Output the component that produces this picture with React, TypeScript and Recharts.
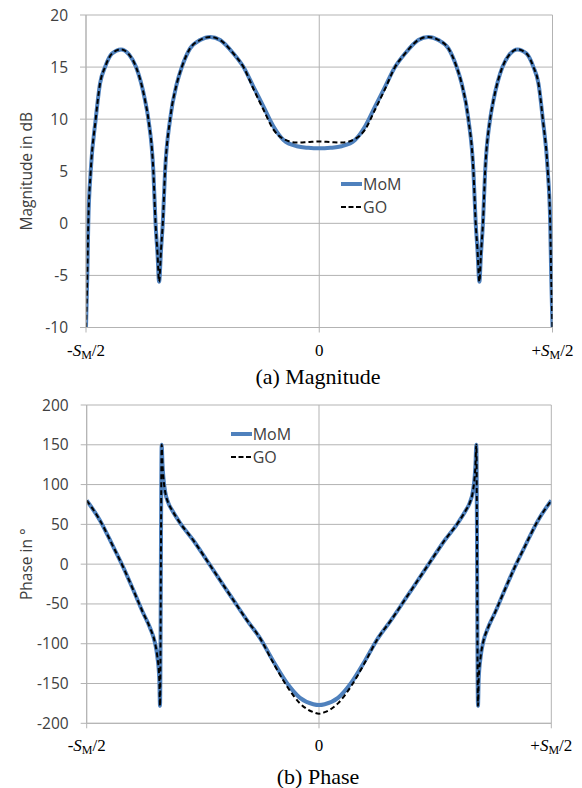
import React from "react";
import { LineChart, Line, XAxis, YAxis, CartesianGrid, Legend } from "recharts";

// x is the position along the aperture in units of S_M (-0.5 .. +0.5)
const xTicks = [-0.5, 0, 0.5];

const magTicks = [-10, -5, 0, 5, 10, 15, 20];
const magX = [
  -0.5, -0.4972, -0.4951, -0.4899, -0.4792, -0.47, -0.4592, -0.4442, -0.4249, -0.4077,
  -0.3927, -0.3734, -0.3663, -0.3556, -0.3509, -0.3466, -0.3433, -0.3391, -0.3354, -0.3305,
  -0.3197, -0.3054, -0.2946, -0.2768, -0.2554, -0.2339, -0.2124, -0.1839, -0.1624, -0.141,
  -0.1195, -0.0981, -0.0766, -0.0479, -0.0236, 0,
  0.0236, 0.0479, 0.0766, 0.0981, 0.1195, 0.141, 0.1624, 0.1839, 0.2124, 0.2339,
  0.2554, 0.2768, 0.2946, 0.3054, 0.3197, 0.3305, 0.3354, 0.3391, 0.3433, 0.3466,
  0.3509, 0.3556, 0.3663, 0.3734, 0.3927, 0.4077, 0.4249, 0.4442, 0.4592, 0.47,
  0.4792, 0.4899, 0.4951, 0.4972, 0.5,
];
const magMoM = [
  -10, -5, 0, 5, 10, 13.4, 15, 16.3, 16.7, 16.2,
  15, 11.8, 10, 5, 0, -3, -5.6, -2.5, 0, 5,
  10, 13.4, 15, 16.8, 17.6, 17.9, 17.6, 16.3, 15, 13.1,
  11.2, 9.3, 8, 7.4, 7.25, 7.2,
  7.25, 7.4, 8, 9.3, 11.2, 13.1, 15, 16.3, 17.6, 17.9,
  17.6, 16.8, 15, 13.4, 10, 5, 0, -2.5, -5.6, -3,
  0, 5, 10, 11.8, 15, 16.2, 16.7, 16.3, 15, 13.4,
  10, 5, 0, -5, -10,
];
const magGO = [
  -10, -5, 0, 5, 10, 13.4, 15, 16.3, 16.7, 16.2,
  15, 11.8, 10, 5, 0, -3, -5.6, -2.5, 0, 5,
  10, 13.4, 15, 16.8, 17.6, 17.9, 17.6, 16.3, 15, 12.9,
  10.9, 9.0, 8.1, 7.75, 7.8, 7.85,
  7.8, 7.75, 8.1, 9.0, 10.9, 12.9, 15, 16.3, 17.6, 17.9,
  17.6, 16.8, 15, 13.4, 10, 5, 0, -2.5, -5.6, -3,
  0, 5, 10, 11.8, 15, 16.2, 16.7, 16.3, 15, 13.4,
  10, 5, 0, -5, -10,
];

const phaseTicks = [-200, -150, -100, -50, 0, 50, 100, 150, 200];
const phaseX = [
  -0.5, -0.4714, -0.4427, -0.4212, -0.3997, -0.3782, -0.3638, -0.353, -0.348, -0.3437,
  -0.3422, -0.3386, -0.3368, -0.3351, -0.3314, -0.3244, -0.3164, -0.2992, -0.2706, -0.2417,
  -0.2131, -0.1845, -0.1556, -0.127, -0.0984, -0.0695, -0.0409, -0.0123, 0,
  0.0123, 0.0409, 0.0695, 0.0984, 0.127, 0.1556, 0.1845, 0.2131, 0.2417, 0.2706,
  0.2992, 0.3164, 0.3244, 0.3314, 0.3351, 0.3368, 0.3386, 0.3422, 0.3437, 0.348,
  0.353, 0.3638, 0.3782, 0.3997, 0.4212, 0.4427, 0.4714, 0.5,
];
const phaseMoM = [
  80, 55, 21.7, -4, -32.5, -61.7, -80, -99, -116, -145,
  -178, 150, 125, 110, 92, 77, 68, 52, 30, 5,
  -20, -45, -70, -93, -122, -149, -168, -176, -177,
  -176, -168, -149, -122, -93, -70, -45, -20, 5, 30,
  52, 68, 77, 92, 110, 125, 150, -178, -145, -116,
  -99, -80, -61.7, -32.5, -4, 21.7, 55, 80,
];
const phaseGO = [
  80, 55, 21.7, -4, -32.5, -61.7, -80, -99, -116, -145,
  -178, 150, 125, 110, 92, 77, 68, 52, 30, 5,
  -20, -45, -70, -93, -124, -153, -175, -186, -188,
  -186, -175, -153, -124, -93, -70, -45, -20, 5, 30,
  52, 68, 77, 92, 110, 125, 150, -178, -145, -116,
  -99, -80, -61.7, -32.5, -4, 21.7, 55, 80,
];

const MOM_COLOR = "#4f81bd";
const GRID = "#b3b3b3";
const TEXT = "#404040";
const SANS = "'Open Sans', 'DejaVu Sans', sans-serif";
const SERIF = "'Liberation Serif', 'Times New Roman', serif";

const magRows = magX.map((x, i) => ({ x, mom: magMoM[i], go: magGO[i] }));
const phaseRows = phaseX.map((x, i) => ({ x, mom: phaseMoM[i], go: phaseGO[i] }));

function XTick({ x, y, payload }: any) {
  const v = payload.value;
  if (v === 0) {
    return (
      <text x={x} y={y} dy={21} textAnchor="middle" fontFamily={SERIF} fontSize={17} fill="#000">
        0
      </text>
    );
  }
  return (
    <text x={x} y={y} dy={21} textAnchor="middle" fontFamily={SERIF} fontSize={17} fill="#000">
      {v < 0 ? "-" : "+"}
      <tspan fontStyle="italic">S</tspan>
      <tspan fontSize={12} dy={3}>M</tspan>
      <tspan dy={-3}>/2</tspan>
    </text>
  );
}

function SeriesLegend() {
  const row = { display: "flex", alignItems: "center", height: 23 } as const;
  return (
    <div style={{ fontFamily: SANS, fontSize: 16, color: TEXT, lineHeight: "23px" }}>
      <div style={row}>
        <svg width={22} height={8}>
          <line x1={0} y1={4} x2={21} y2={4} stroke={MOM_COLOR} strokeWidth={4} />
        </svg>
        <span>MoM</span>
      </div>
      <div style={row}>
        <svg width={22} height={8}>
          <line x1={0} y1={4} x2={21} y2={4} stroke="#000" strokeWidth={2} strokeDasharray="5 2.5" />
        </svg>
        <span>GO</span>
      </div>
    </div>
  );
}

interface PanelProps {
  rows: { x: number; mom: number; go: number }[];
  height: number;
  margin: { top: number; right: number; bottom: number; left: number };
  yDomain: [number, number];
  yTicks: number[];
  yLabel: string;
  legendLeft: number;
  legendTop: number;
}

function Panel({ rows, height, margin, yDomain, yTicks, yLabel, legendLeft, legendTop }: PanelProps) {
  return (
    <LineChart width={582} height={height} data={rows} margin={margin}>
      <CartesianGrid stroke={GRID} strokeWidth={1} />
      <XAxis
        dataKey="x"
        type="number"
        domain={[-0.5, 0.5]}
        ticks={xTicks}
        tick={<XTick />}
        tickSize={5}
        stroke={GRID}
        height={30}
        allowDataOverflow
      />
      <YAxis
        type="number"
        domain={yDomain}
        ticks={yTicks}
        tickSize={6}
        tickMargin={12}
        stroke={GRID}
        width={60}
        tick={{ fill: TEXT, fontSize: 15.5, fontFamily: SANS }}
        label={{
          value: yLabel,
          angle: -90,
          position: "insideLeft",
          offset: 0,
          style: { textAnchor: "middle", fill: TEXT, fontSize: 15.5, fontFamily: SANS },
        }}
        allowDataOverflow
      />
      <Legend
        layout="vertical"
        align="center"
        verticalAlign="middle"
        content={<SeriesLegend />}
        wrapperStyle={{ left: legendLeft, top: legendTop, width: "auto" }}
      />
      <Line
        dataKey="mom"
        name="MoM"
        type="monotone"
        stroke={MOM_COLOR}
        strokeWidth={4}
        dot={false}
        activeDot={false}
        isAnimationActive={false}
      />
      <Line
        dataKey="go"
        name="GO"
        type="monotone"
        stroke="#000"
        strokeWidth={2}
        strokeDasharray="5 3"
        dot={false}
        activeDot={false}
        isAnimationActive={false}
      />
    </LineChart>
  );
}

const titleStyle = {
  position: "absolute",
  left: 0,
  width: 582,
  paddingLeft: 54,
  boxSizing: "border-box",
  height: 26,
  lineHeight: "26px",
  textAlign: "center",
  fontFamily: SERIF,
  fontSize: 22,
  color: "#000",
} as const;

export default function App() {
  return (
    <div style={{ position: "absolute", left: 0, top: 0, width: 582, height: 788, background: "#fff" }}>
      <div style={{ position: "absolute", left: 0, top: 0 }}>
        <Panel
          rows={magRows}
          height={362}
          margin={{ top: 15, right: 29.5, bottom: 4.5, left: 26 }}
          yDomain={[-10, 20]}
          yTicks={magTicks}
          yLabel="Magnitude in dB"
          legendLeft={341}
          legendTop={172.5}
        />
      </div>
      <div style={{ ...titleStyle, top: 364 }}>(a) Magnitude</div>
      <div style={{ position: "absolute", left: 0, top: 390 }}>
        <Panel
          rows={phaseRows}
          height={372}
          margin={{ top: 15, right: 30.7, bottom: 8.7, left: 26.7 }}
          yDomain={[-200, 200]}
          yTicks={phaseTicks}
          yLabel="Phase in °"
          legendLeft={230.7}
          legendTop={32.5}
        />
      </div>
      <div style={{ ...titleStyle, top: 763.6 }}>(b) Phase</div>
    </div>
  );
}
